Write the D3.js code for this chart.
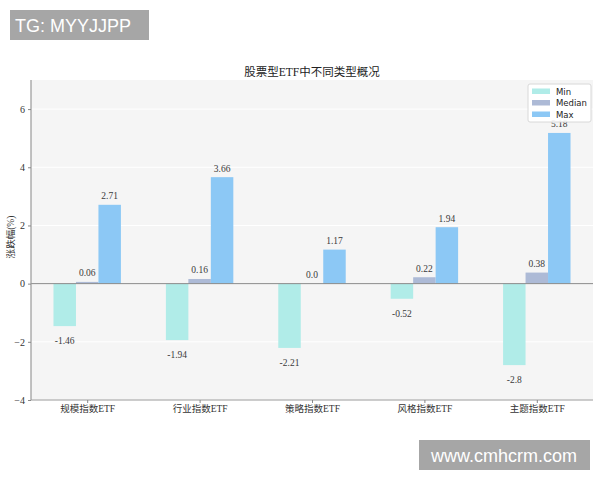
<!DOCTYPE html>
<html>
<head>
    <meta charset="utf-8">
    <title>股票型ETF中不同类型概况</title>
    <script src="https://cdn.jsdelivr.net/npm/d3@7"></script>
    <style>
        body { margin: 0; background: #fff; }
        svg { display: block; }
    </style>
</head>
<body>
<script>
    // chart values
    var categories = ["规模指数ETF", "行业指数ETF", "策略指数ETF", "风格指数ETF", "主题指数ETF"];
    var minValues = [-1.46, -1.94, -2.21, -0.52, -2.8];
    var medianValues = [0.06, 0.16, 0.0, 0.22, 0.38];
    var maxValues = [2.71, 3.66, 1.17, 1.94, 5.18];
    var seriesNames = ["Min", "Median", "Max"];
    var yTicks = [-4, -2, 0, 2, 4, 6];

    var width = 600, height = 480;
    var colors = ["#b0ece8", "#adbad6", "#8cc8f5"];
    var offsets = [-0.2, 0, 0.2];
    var barWidth = 0.2;

    var series = [minValues, medianValues, maxValues];

    var serif = "'Liberation Serif', 'DejaVu Serif', 'Noto Sans CJK SC', serif";
    var cjk = "'Liberation Serif', 'Noto Sans CJK SC', serif";

    var svg = d3.select("body").append("svg")
        .attr("width", width)
        .attr("height", height);

    var x = d3.scaleLinear().domain([-0.5, 4.5]).range([31, 593]);
    var y = d3.scaleLinear().domain([-4, 7]).range([400, 80]);

    // plot background
    svg.append("rect")
        .attr("x", x(-0.5)).attr("y", y(7))
        .attr("width", x(4.5) - x(-0.5))
        .attr("height", y(-4) - y(7))
        .attr("fill", "#f5f5f5");

    // faint grid
    svg.append("g").selectAll("line")
        .data(yTicks)
        .enter().append("line")
        .attr("x1", x(-0.5)).attr("x2", x(4.5))
        .attr("y1", function (d) { return y(d); })
        .attr("y2", function (d) { return y(d); })
        .attr("stroke", "#ffffff")
        .attr("stroke-width", 1);

    // bars
    series.forEach(function (vals, s) {
        svg.append("g").selectAll("rect")
            .data(vals)
            .enter().append("rect")
            .attr("x", function (d, i) { return x(i + offsets[s] - barWidth / 2); })
            .attr("width", function () { return x(barWidth) - x(0); })
            .attr("y", function (d) { return y(Math.max(0, d)); })
            .attr("height", function (d) { return Math.abs(y(d) - y(0)); })
            .attr("fill", colors[s]);
    });

    // zero line
    svg.append("line")
        .attr("x1", x(-0.5)).attr("x2", x(4.5))
        .attr("y1", y(0)).attr("y2", y(0))
        .attr("stroke", "#8a8a8a")
        .attr("stroke-width", 1);

    // value labels
    function fmt(v) {
        return Number.isInteger(v) ? v.toFixed(1) : String(v);
    }
    series.forEach(function (vals, s) {
        svg.append("g").selectAll("text")
            .data(vals)
            .enter().append("text")
            .attr("x", function (d, i) { return x(i + offsets[s]); })
            .attr("y", function (d) { return d >= 0 ? y(d) - 5.5 : y(d) + 18; })
            .attr("text-anchor", "middle")
            .style("font-family", serif)
            .style("font-size", "9.5px")
            .attr("fill", "#3a3a3a")
            .text(fmt);
    });

    // axes
    var yAxis = d3.axisLeft(y).tickValues(yTicks).tickSize(3).tickPadding(3);
    var yG = svg.append("g")
        .attr("transform", "translate(" + x(-0.5) + ",0)")
        .call(yAxis);

    var xAxis = d3.axisBottom(x).tickValues(d3.range(categories.length))
        .tickFormat(function (d) { return categories[d]; })
        .tickSize(3).tickPadding(2);
    var xG = svg.append("g")
        .attr("transform", "translate(0," + y(-4) + ")")
        .call(xAxis);

    [yG, xG].forEach(function (g) {
        g.select(".domain").attr("stroke", "#999").attr("stroke-width", 1.2);
        g.selectAll(".tick line").attr("stroke", "#888");
        g.selectAll(".tick text").attr("fill", "#333");
    });
    yG.selectAll(".tick text").style("font-family", serif).style("font-size", "10px");
    xG.selectAll(".tick text").style("font-family", cjk).style("font-size", "9.5px");
    // domain paths include outer ticks; redraw them flat
    yG.select(".domain").attr("d", "M0," + y(7) + "V" + y(-4));
    xG.select(".domain").attr("d", "M" + x(-0.5) + ",0H" + x(4.5));

    // y axis title
    svg.append("text")
        .attr("transform", "translate(14," + ((y(7) + y(-4)) / 2 - 3) + ") rotate(-90)")
        .attr("text-anchor", "middle")
        .style("font-family", cjk)
        .style("font-size", "9.5px")
        .attr("fill", "#333")
        .text("涨跌幅(%)");

    // title
    svg.append("text")
        .attr("x", (x(-0.5) + x(4.5)) / 2)
        .attr("y", 76)
        .attr("text-anchor", "middle")
        .style("font-family", cjk)
        .style("font-size", "11.5px")
        .attr("fill", "#222")
        .text("股票型ETF中不同类型概况");

    // legend (drawn over the last max label, as in the original)
    var legend = svg.append("g").attr("transform", "translate(528,84)");
    legend.append("rect")
        .attr("width", 63).attr("height", 38)
        .attr("rx", 2)
        .attr("fill", "#ffffff").attr("fill-opacity", 0.92)
        .attr("stroke", "#d8d8d8");
    seriesNames.forEach(function (name, i) {
        legend.append("rect")
            .attr("x", 4).attr("y", 4.5 + i * 11.5)
            .attr("width", 18).attr("height", 5.5)
            .attr("fill", colors[i]);
        legend.append("text")
            .attr("x", 28).attr("y", 10.5 + i * 11.5)
            .style("font-family", "'DejaVu Sans', sans-serif")
            .style("font-size", "8.5px")
            .attr("fill", "#222")
            .text(name);
    });

    // watermarks
    var marks = [
        {text: "TG: MYYJJPP", x: 10, y: 10, w: 139, h: 30, anchor: "start", tx: 15},
        {text: "www.cmhcrm.com", x: 419, y: 440, w: 171, h: 30, anchor: "middle", tx: 504}
    ];
    marks.forEach(function (m) {
        svg.append("rect")
            .attr("x", m.x).attr("y", m.y)
            .attr("width", m.w).attr("height", m.h)
            .attr("fill", "#a6a6a6");
        svg.append("text")
            .attr("x", m.tx).attr("y", m.y + 22)
            .attr("text-anchor", m.anchor)
            .style("font-family", "'Liberation Sans', Arial, sans-serif")
            .style("font-size", "18px")
            .attr("fill", "#ffffff")
            .text(m.text);
    });
</script>
</body>
</html>
